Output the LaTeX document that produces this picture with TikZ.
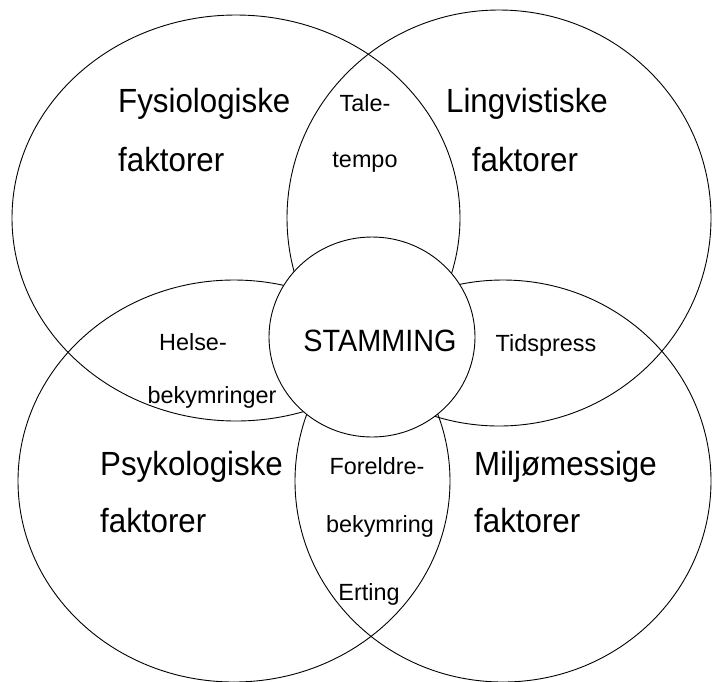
\documentclass[tikz,border=0pt]{standalone}
\usepackage{fontspec}
\setmainfont{Liberation Sans}
\newcommand{\tallbox}[1]{\scalebox{1}[1.07]{#1}}
\begin{document}
\begin{tikzpicture}[x=1pt,y=-1pt,
  ring/.style={draw=black,line width=0.9pt},
  big/.style={font=\fontsize{31.3}{36}\selectfont, inner sep=0pt},
  small/.style={font=\fontsize{23.4}{28}\selectfont, inner sep=0pt},
  mid/.style={font=\fontsize{28.8}{34}\selectfont, inner sep=0pt}]
\useasboundingbox (0,0) rectangle (712,681);
% four large ellipses
\draw[ring] (236,218) ellipse [x radius=224, y radius=203];
\draw[ring] (499,218) ellipse [x radius=212, y radius=208];
\draw[ring] (234,481) ellipse [x radius=216, y radius=201];
\draw[ring] (503,481) ellipse [x radius=208, y radius=201];
% centre circle
\draw[ring,fill=white] (372,337) ellipse [x radius=103, y radius=100];
% labels
\node[big, anchor=base west] (fys) at (118,112) {\tallbox{Fysiologiske}};
\node[big, anchor=base west] (fysf) at (118,171) {\tallbox{faktorer}};
\node[big, anchor=base] (ling) at (527,112) {\tallbox{Lingvistiske}};
\node[big, anchor=base] (lingf) at (525,171) {\tallbox{faktorer}};
\node[big, anchor=base west] (psy) at (100,475) {\tallbox{Psykologiske}};
\node[big, anchor=base west] (psyf) at (100,532) {\tallbox{faktorer}};
\node[big, anchor=base west] (mil) at (474,475) {\tallbox{Miljømessige}};
\node[big, anchor=base west] (milf) at (474,532) {\tallbox{faktorer}};
\node[mid, anchor=base] (st) at (380,351) {\tallbox{STAMMING}};
\node[small, anchor=base] (tale) at (365,111) {Tale-};
\node[small, anchor=base] (tempo) at (365,167) {tempo};
\node[small, anchor=base] (helse) at (193,350) {Helse-};
\node[small, anchor=base] (helseb) at (212,403) {bekymringer};
\node[small, anchor=base] (tid) at (546,351) {Tidspress};
\node[small, anchor=base] (for) at (377,474) {Foreldre-};
\node[small, anchor=base] (forb) at (380,532) {bekymring};
\node[small, anchor=base] (ert) at (369,600) {Erting};
\end{tikzpicture}
\end{document}
